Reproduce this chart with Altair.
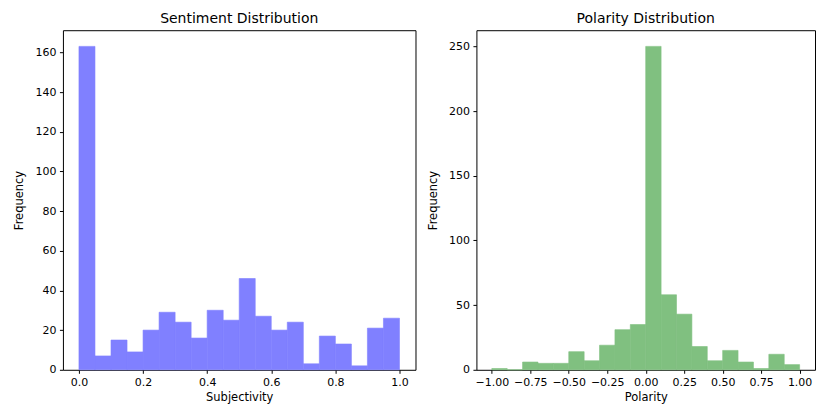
import altair as alt
import pandas as pd

# Subjectivity histogram (20 bins over 0..1)
subj_start = [0.00, 0.05, 0.10, 0.15, 0.20, 0.25, 0.30, 0.35, 0.40, 0.45,
              0.50, 0.55, 0.60, 0.65, 0.70, 0.75, 0.80, 0.85, 0.90, 0.95]
subj_end = [0.05, 0.10, 0.15, 0.20, 0.25, 0.30, 0.35, 0.40, 0.45, 0.50,
            0.55, 0.60, 0.65, 0.70, 0.75, 0.80, 0.85, 0.90, 0.95, 1.00]
subj_count = [163, 7, 15, 9, 20, 29, 24, 16, 30, 25,
              46, 27, 20, 24, 3, 17, 13, 2, 21, 26]

# Polarity histogram (20 bins over -1..1)
pol_start = [-1.0, -0.9, -0.8, -0.7, -0.6, -0.5, -0.4, -0.3, -0.2, -0.1,
             0.0, 0.1, 0.2, 0.3, 0.4, 0.5, 0.6, 0.7, 0.8, 0.9]
pol_end = [-0.9, -0.8, -0.7, -0.6, -0.5, -0.4, -0.3, -0.2, -0.1, 0.0,
           0.1, 0.2, 0.3, 0.4, 0.5, 0.6, 0.7, 0.8, 0.9, 1.0]
pol_count = [1, 0, 6, 5, 5, 14, 7, 19, 31, 35,
             250, 58, 43, 18, 7, 15, 6, 1, 12, 4]

subj_ticks = [0.0, 0.2, 0.4, 0.6, 0.8, 1.0]
subj_yticks = [0, 20, 40, 60, 80, 100, 120, 140, 160]
pol_ticks = [-1.0, -0.75, -0.5, -0.25, 0.0, 0.25, 0.5, 0.75, 1.0]
pol_yticks = [0, 50, 100, 150, 200, 250]

subj_df = pd.DataFrame({"start": subj_start, "end": subj_end, "count": subj_count})
pol_df = pd.DataFrame({"start": pol_start, "end": pol_end, "count": pol_count})

FONT = "DejaVu Sans"
H = 340


def hist(df, color, title, xtitle, xdom, xticks, xfmt, ydom, yticks, w):
    return alt.Chart(df).mark_rect(color=color, opacity=1.0, stroke=color,
                                   strokeWidth=0.6).encode(
        x=alt.X("start:Q", scale=alt.Scale(domain=xdom, nice=False, zero=False),
                axis=alt.Axis(values=xticks, format=xfmt, title=xtitle)),
        x2="end:Q",
        y=alt.Y("count:Q", scale=alt.Scale(domain=ydom, nice=False),
                axis=alt.Axis(values=yticks, title="Frequency")),
        y2=alt.datum(0),
    ).properties(width=w, height=H, title=title)


left = hist(subj_df, "#8080FF", "Sentiment Distribution", "Subjectivity",
            [-0.05, 1.05], subj_ticks, ".1f", [0, 171.15], subj_yticks, 353)
right = hist(pol_df, "#80C080", "Polarity Distribution", "Polarity",
             [-1.1, 1.1], pol_ticks, ".2f", [0, 262.5], pol_yticks, 339)

chart = alt.hconcat(left, right, spacing=10).properties(
    padding={"left": 5, "top": 3, "right": 0, "bottom": 0}
).configure_view(
    stroke="black", strokeWidth=1
).configure_axis(
    grid=False, domain=False, tickColor="black", tickSize=3.5,
    labelFont=FONT, labelFontSize=11, labelColor="black", labelPadding=3.5,
    titleFont=FONT, titleFontSize=11.5, titleFontWeight="normal", titleColor="black",
).configure_axisY(titlePadding=10).configure_axisX(titlePadding=4).configure_title(
    font=FONT, fontSize=14, fontWeight="normal", color="black", offset=4
)

chart.save("out.html", embed_options={"renderer": "svg", "actions": False})
